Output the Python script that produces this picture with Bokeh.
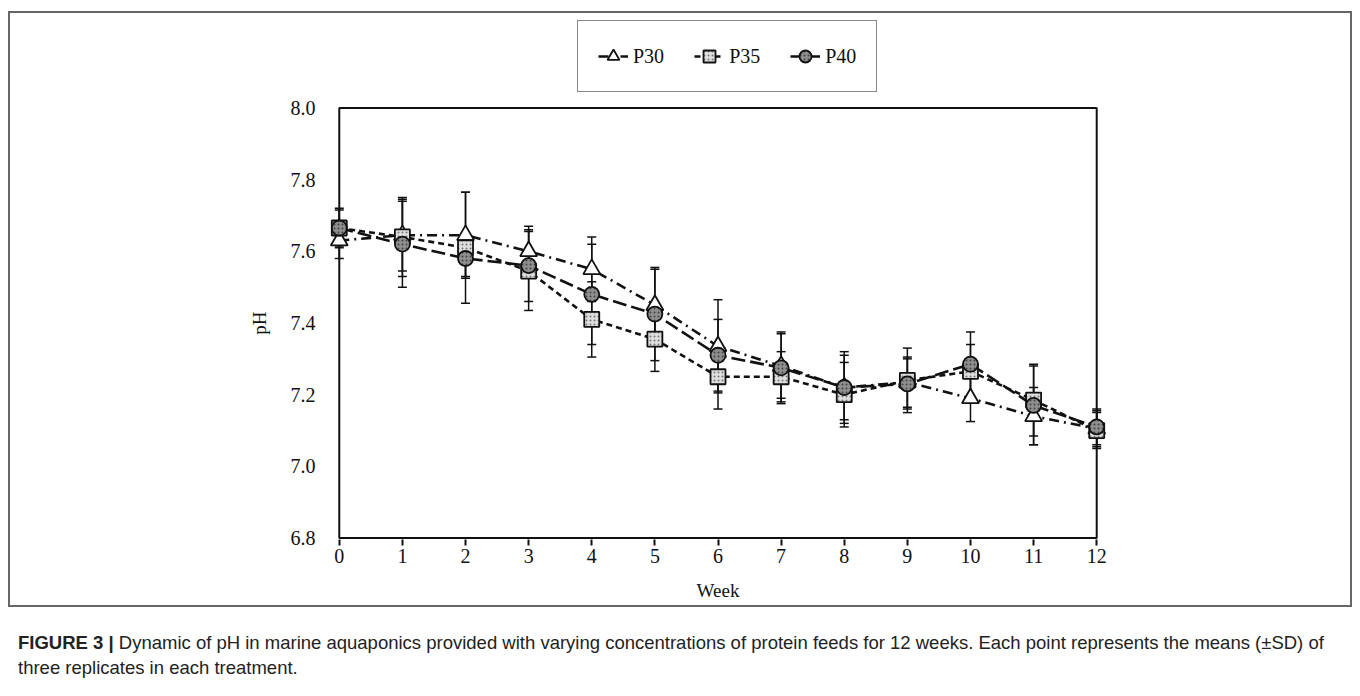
from bokeh.plotting import figure
from bokeh.models import (ColumnDataSource, Whisker, TeeHead, Legend, LegendItem,
                          Range1d, FixedTicker, Div, CustomJSTickFormatter)
from bokeh.layouts import column
from bokeh.embed import file_html
from bokeh.resources import INLINE

# ---------------- data ----------------
weeks = [0, 1, 2, 3, 4, 5, 6, 7, 8, 9, 10, 11, 12]
p30_mean = [7.63, 7.645, 7.645, 7.60, 7.55, 7.45, 7.335, 7.28, 7.22, 7.235, 7.19, 7.14, 7.105]
p30_sd = [0.05, 0.10, 0.12, 0.07, 0.09, 0.10, 0.13, 0.09, 0.09, 0.07, 0.065, 0.08, 0.05]
p35_mean = [7.665, 7.64, 7.61, 7.545, 7.41, 7.355, 7.25, 7.25, 7.20, 7.24, 7.265, 7.185, 7.10]
p35_sd = [0.05, 0.11, 0.155, 0.11, 0.105, 0.09, 0.09, 0.07, 0.09, 0.09, 0.075, 0.10, 0.05]
p40_mean = [7.665, 7.62, 7.58, 7.56, 7.48, 7.425, 7.31, 7.275, 7.22, 7.23, 7.285, 7.17, 7.11]
p40_sd = [0.055, 0.12, 0.05, 0.10, 0.14, 0.13, 0.10, 0.10, 0.10, 0.07, 0.09, 0.11, 0.05]
series_names = ["P30", "P35", "P40"]
y_ticks = [6.8, 7.0, 7.2, 7.4, 7.6, 7.8, 8.0]
x_ticks = weeks
x_label = "Week"
y_label = "pH"
caption_bold = "FIGURE 3 |"
caption_line1 = ("Dynamic of pH in marine aquaponics provided with varying concentrations of "
                 "protein feeds for 12 weeks. Each point represents the means (\u00b1SD) of")
caption_line2 = "three replicates in each treatment."

SERIF = "Liberation Serif"
SANS = "Liberation Sans"
INK = "#111111"
BOX = "#666666"

styles = [
    dict(mean=p30_mean, sd=p30_sd, dash="10 5 2 5", marker="triangle", size=17,
         fill="white", hatch=None),
    dict(mean=p35_mean, sd=p35_sd, dash="6 4", marker="square", size=15,
         fill="#dedede", hatch="#777777"),
    dict(mean=p40_mean, sd=p40_sd, dash="14 5", marker="circle", size=15,
         fill="#8e8e8e", hatch="#444444"),
]


def marker_kw(st):
    kw = dict(marker=st["marker"], fill_color=st["fill"], line_color=INK, line_width=1.8)
    if st["hatch"]:
        kw.update(hatch_pattern="dot", hatch_color=st["hatch"], hatch_scale=4,
                  hatch_weight=1)
    return kw


# ---------------- legend strip (top of the boxed area) ----------------
lg = figure(frame_width=789, frame_height=83,
            min_border_left=315, min_border_right=240,
            min_border_top=0, min_border_bottom=0,
            x_range=Range1d(0, 1), y_range=Range1d(0, 1),
            x_axis_type=None, y_axis_type=None,
            output_backend="svg", toolbar_location=None,
            styles={"box-shadow": f"inset 2px 2px 0 0 {BOX}, inset -2px 0 0 0 {BOX}"})
lg.outline_line_color = None
lg.grid.visible = False
lg.border_fill_color = None
lg.background_fill_color = None

items = []
for name, st in zip(series_names, styles):
    # one real point per series, lying outside this strip's view, drives the legend swatch
    src1 = ColumnDataSource(dict(x=weeks[:1], y=st["mean"][:1]))
    lr = lg.line("x", "y", source=src1, line_color=INK, line_width=2.6,
                 line_dash=st["dash"])
    mr = lg.scatter("x", "y", source=src1, size=st["size"], **marker_kw(st))
    items.append(LegendItem(label=name, renderers=[lr, mr]))

legend = Legend(items=items, orientation="horizontal", location=(254, 2),
                label_text_font=SERIF, label_text_font_size="20px",
                label_text_color=INK,
                glyph_width=30, glyph_height=30, label_height=30,
                label_standoff=5, spacing=30, padding=20, margin=0,
                border_line_color=INK, border_line_width=1.5,
                background_fill_color="white", background_fill_alpha=1)
lg.add_layout(legend, "center")

# ---------------- main chart ----------------
p = figure(frame_width=789, frame_height=433,
           min_border_left=315, min_border_right=240,
           min_border_top=12, min_border_bottom=68,
           x_range=Range1d(-0.25, 12.25), y_range=Range1d(6.796, 8.004),
           output_backend="svg", toolbar_location=None,
           styles={"box-shadow": f"inset 2px -2px 0 0 {BOX}, inset -2px 0 0 0 {BOX}"})
p.outline_line_color = None
p.grid.visible = False
p.border_fill_color = None
p.background_fill_color = "white"

# frame box
p.quad(left=[0], right=[12], bottom=[6.8], top=[8.0], fill_color=None,
       line_color=INK, line_width=2)

srcs = []
for st in styles:
    up = [m + s for m, s in zip(st["mean"], st["sd"])]
    lo = [m - s for m, s in zip(st["mean"], st["sd"])]
    src = ColumnDataSource(dict(x=weeks, y=st["mean"], upper=up, lower=lo))
    srcs.append(src)
    w = Whisker(source=src, base="x", upper="upper", lower="lower",
                line_color=INK, line_width=1.5,
                upper_head=TeeHead(size=9, line_color=INK, line_width=1.5),
                lower_head=TeeHead(size=9, line_color=INK, line_width=1.5))
    p.add_layout(w)

for st, src in zip(styles, srcs):
    p.line("x", "y", source=src, line_color=INK, line_width=2.6, line_dash=st["dash"])

for st, src in zip(styles, srcs):
    p.scatter("x", "y", source=src, size=st["size"], **marker_kw(st))

# axes
p.xaxis.ticker = FixedTicker(ticks=x_ticks)
p.yaxis.ticker = FixedTicker(ticks=y_ticks)
p.yaxis.formatter = CustomJSTickFormatter(code="return tick.toFixed(1)")
for ax in (p.xaxis[0], p.yaxis[0]):
    ax.axis_line_color = None
    ax.major_label_text_font = SERIF
    ax.major_label_text_font_size = "20px"
    ax.major_label_text_color = INK
    ax.minor_tick_line_color = None
    ax.axis_label_text_font = SERIF
    ax.axis_label_text_font_size = "19px"
    ax.axis_label_text_font_style = "normal"
    ax.axis_label_text_color = INK
p.xaxis.major_tick_in = 0
p.xaxis.major_tick_out = 6
p.xaxis.major_tick_line_color = INK
p.xaxis.major_tick_line_width = 2
p.xaxis.major_label_standoff = 3
p.xaxis.axis_label = x_label
p.xaxis.axis_label_standoff = 14
p.yaxis.major_tick_line_color = None
p.yaxis.major_label_standoff = 2
p.yaxis.axis_label = y_label
p.yaxis.axis_label_standoff = 18

# caption
cap = Div(text=("<b>" + caption_bold + "</b> " + caption_line1 + "<br>" + caption_line2),
          width=1344, height=70, margin=0,
          styles={"font-family": SANS, "font-size": "18.5px", "line-height": "25px",
                  "padding-top": "23px", "padding-left": "10px", "color": "#222222",
                  "white-space": "nowrap"})

layout = column(lg, p, cap, spacing=0)
layout.margin = (11, 0, 0, 8)
open("out.html", "w").write(file_html(layout, INLINE))
